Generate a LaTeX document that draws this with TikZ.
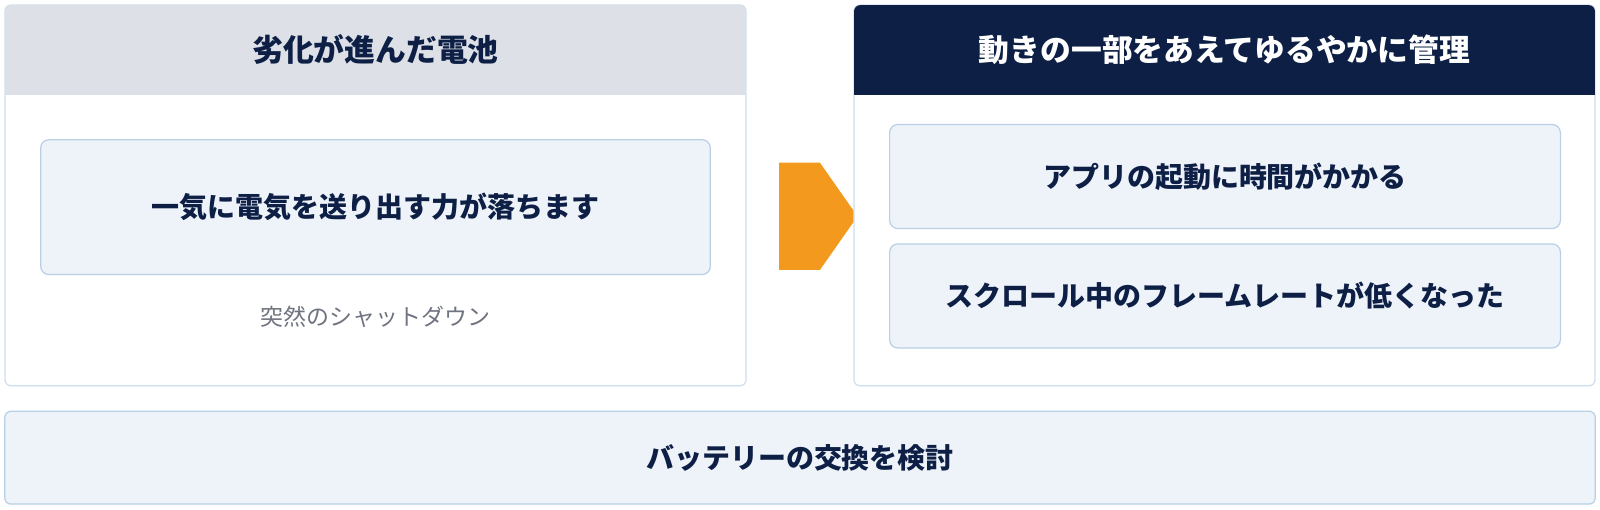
\documentclass[tikz,border=0pt]{standalone}
\usepackage{fontspec}
\newfontfamily\jp{Noto Sans CJK JP}
\usetikzlibrary{shapes.arrows}
\definecolor{navy}{HTML}{0D1F45}
\definecolor{headgray}{HTML}{DDE1E7}
\definecolor{boxfill}{HTML}{EEF3FA}
\definecolor{boxline}{HTML}{B8CFE6}
\definecolor{textgray}{HTML}{707480}
\definecolor{orng}{HTML}{F39A1E}
\begin{document}
\begin{tikzpicture}[x=0.0255cm,y=-0.0255cm]
    \tikzstyle{panel} = [rectangle, rounded corners=4.4pt, draw=boxline!70, fill=white, line width=0.87pt, minimum width=18.52cm, minimum height=9.515cm, inner sep=0]
    \tikzstyle{item} = [rectangle, rounded corners=5.8pt, draw=boxline, fill=boxfill, line width=0.87pt, inner sep=0, font=\jp\bfseries\fontsize{19.9}{24}\selectfont, text=navy]
    \tikzstyle{head} = [font=\jp\bfseries\fontsize{21.9}{26}\selectfont]

    \useasboundingbox (0,0) rectangle (1568,499);

    \node (left) [panel] at (368,191.5) {};
    \fill[headgray] (5,93) {[rounded corners=4.4pt] -- (5,5) -- (731,5)} -- (731,93) -- cycle;
    \node (lefthead) [head, text=navy] at (368,49) {劣化が進んだ電池};
    \node (power) [item, minimum width=16.73cm, minimum height=3.37cm] at (368,203) {一気に電気を送り出す力が落ちます};
    \node (shutdown) [font=\jp\fontsize{16.3}{19}\selectfont, text=textgray] at (368,310) {突然のシャットダウン};

    \node (arrow) [single arrow, fill=orng, minimum width=2.68cm, single arrow head extend=0, minimum height=1.96cm, inner sep=0, single arrow tip angle=110] at (783.5,212) {};

    \node (right) [panel] at (1200,191.5) {};
    \fill[navy] (837,93) {[rounded corners=4.4pt] -- (837,5) -- (1563,5)} -- (1563,93) -- cycle;
    \node (righthead) [head, text=white] at (1200,49) {動きの一部をあえてゆるやかに管理};
    \node (launch) [item, minimum width=16.76cm, minimum height=2.6cm] at (1200.5,173) {アプリの起動に時間がかかる};
    \node (scroll) [item, minimum width=16.76cm, minimum height=2.6cm] at (1200.5,290) {スクロール中のフレームレートが低くなった};

    \node (battery) [item, rounded corners=4.4pt, minimum width=39.74cm, minimum height=2.32cm] at (784,448.5) {バッテリーの交換を検討};
\end{tikzpicture}
\end{document}
